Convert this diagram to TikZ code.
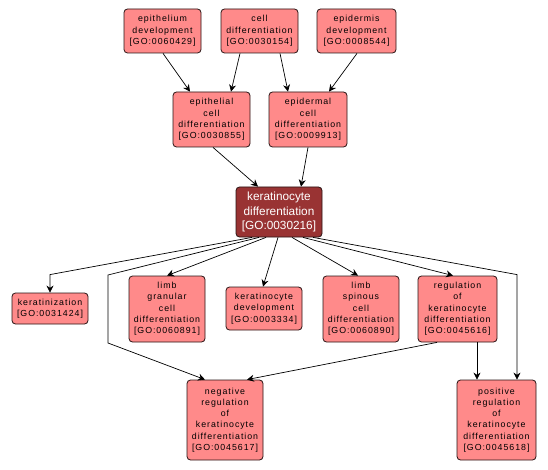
\documentclass[tikz,border=0pt]{standalone}
\usepackage{fontspec}
\setmainfont{Liberation Sans}
\newfontfamily\smallfnt[LetterSpace=11]{Liberation Sans}
\usetikzlibrary{arrows.meta}
\definecolor{lightnode}{RGB}{255,138,138}
\definecolor{darknode}{RGB}{153,51,51}
\definecolor{border}{RGB}{40,20,20}
\tikzset{
  x=1pt,y=1pt,
  term/.style={draw=border, line width=0.8pt, fill=lightnode, rounded corners=3.5pt,
    align=center, inner sep=0pt, text=black,
    font=\smallfnt\fontsize{8.8}{11.3}\selectfont},
  mainterm/.style={term, fill=darknode, text=white, font=\fontsize{11.8}{14.6}\selectfont},
  arr/.style={-{Stealth[length=7pt,width=7pt]}, line width=0.7pt, black},
}
\begin{document}
\begin{tikzpicture}
\useasboundingbox (0,0) rectangle (548,-470);
% top row
\node[term, minimum width=77, minimum height=44] (ed) at (162.5,-31) {epithelium\\development\\{[GO:0060429]}};
\node[term, minimum width=77, minimum height=44] (cd) at (259.5,-31) {cell\\differentiation\\{[GO:0030154]}};
\node[term, minimum width=79, minimum height=44] (epd) at (356.5,-31) {epidermis\\development\\{[GO:0008544]}};
% second row
\node[term, minimum width=77, minimum height=55] (ecd) at (211.5,-119.5) {epithelial\\cell\\differentiation\\{[GO:0030855]}};
\node[term, minimum width=78, minimum height=55] (edc) at (308,-119.5) {epidermal\\cell\\differentiation\\{[GO:0009913]}};
% main
\node[mainterm, minimum width=86, minimum height=50] (kd) at (279,-212) {keratinocyte\\differentiation\\{[GO:0030216]}};
% third row
\node[term, minimum width=76, minimum height=31] (ker) at (50,-308.5) {keratinization\\{[GO:0031424]}};
\node[term, minimum width=76, minimum height=66] (lg) at (167,-309) {limb\\granular\\cell\\differentiation\\{[GO:0060891]}};
\node[term, minimum width=76, minimum height=43] (kdev) at (264,-308.5) {keratinocyte\\development\\{[GO:0003334]}};
\node[term, minimum width=76, minimum height=66] (ls) at (361,-309) {limb\\spinous\\cell\\differentiation\\{[GO:0060890]}};
\node[term, minimum width=79, minimum height=66] (reg) at (457.5,-309) {regulation\\of\\keratinocyte\\differentiation\\{[GO:0045616]}};
% bottom row
\node[term, minimum width=76, minimum height=80] (neg) at (225,-420) {negative\\regulation\\of\\keratinocyte\\differentiation\\{[GO:0045617]}};
\node[term, minimum width=79, minimum height=80] (pos) at (496.5,-420) {positive\\regulation\\of\\keratinocyte\\differentiation\\{[GO:0045618]}};
% bend points
\coordinate (n1) at (108,-275);
\coordinate (n2) at (108,-343);
% edges top
\draw[arr] ([xshift=0.5]ed.south) -- ([xshift=-21.5]ecd.north);
\draw[arr] ([xshift=-19.5]cd.south) -- ([xshift=19.5]ecd.north);
\draw[arr] ([xshift=20.5]cd.south) -- ([xshift=-20]edc.north);
\draw[arr] ([xshift=0.5]epd.south) -- ([xshift=21]edc.north);
\draw[arr] ([xshift=1.5]ecd.south) -- ([xshift=-21]kd.north);
\draw[arr] (edc.south) -- ([xshift=22]kd.north);
% edges from kd
\draw[arr] ([xshift=-27]kd.south) -- ([yshift=18]ker.north) -- (ker.north);
\draw[arr] ([xshift=-20]kd.south) -- (n1) -- (n2) -- ([xshift=-20]neg.north);
\draw[arr] ([xshift=-13]kd.south) -- (lg.north);
\draw[arr] ([xshift=-1]kd.south) -- ([xshift=-1]kdev.north);
\draw[arr] ([xshift=13]kd.south) -- ([xshift=-3]ls.north);
\draw[arr] ([xshift=24]kd.south) -- ([xshift=-4.5]reg.north);
\draw[arr] ([xshift=34]kd.south) -- ([xshift=20.5,yshift=105]pos.north) -- ([xshift=20.5]pos.north);
% edges from reg
\draw[arr] ([xshift=19.5]reg.south) -- ([xshift=-19.5]pos.north);
\draw[arr] ([xshift=-20.5]reg.south) -- ([xshift=22]neg.north);
\end{tikzpicture}
\end{document}
